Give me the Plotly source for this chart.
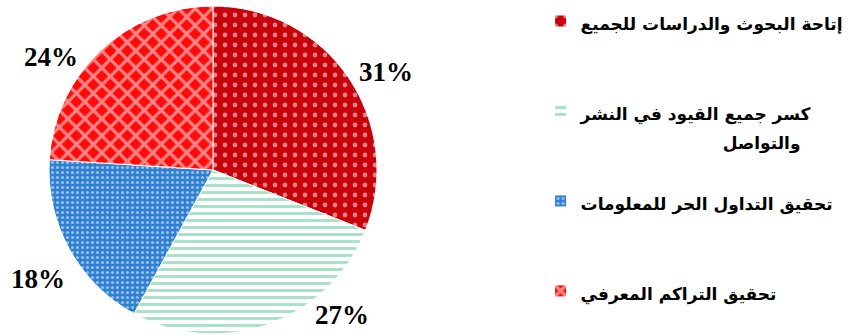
import plotly.graph_objects as go

# Share of respondents per goal of open access
labels = [
    "إتاحة البحوث والدراسات للجميع",
    "كسر جميع القيود في النشر<br>" + "\u00a0" * 24 + "والتواصل",
    "تحقيق التداول الحر للمعلومات",
    "تحقيق التراكم المعرفي",
]
values = [31, 27, 18, 24]

pattern_shapes = [".", "-", ".", "x"]
pattern_fg = ["#ffffff", "#45c487", "#ffffff", "#ffffff"]
pattern_bg = ["#c8000a", "#ffffff", "#2f80d3", "#ff0a0a"]
pattern_size = [10, 7, 5, 12]
pattern_solidity = [0.18, 0.4, 0.3, 0.45]

# Where each percentage label sits (pixel position in the 850x335 figure)
label_pos_px = [(386, 72), (342, 315), (38, 279), (51, 57)]

W, H = 850, 335
M_T, M_B = 6, 1


def to_paper(px, py):
    return px / W, 1 - (py - M_T) / (H - M_T - M_B)


# Extra blank lines keep the legend entries evenly spread
legend_text = [
    labels[0] + "<br> <br> ",
    labels[1] + "<br> ",
    labels[2] + "<br> <br> ",
    labels[3],
]
legend_text = [f'<span style="font-size:17px">{t}</span>' for t in legend_text]

fig = go.Figure(
    go.Pie(
        labels=legend_text,
        values=values,
        sort=False,
        direction="clockwise",
        rotation=0,
        domain=dict(x=[0, 426 / W], y=[0, 1]),
        marker=dict(
            colors=pattern_bg,
            line=dict(color="#ffffff", width=1),
            pattern=dict(
                shape=pattern_shapes,
                fgcolor=pattern_fg,
                bgcolor=pattern_bg,
                size=pattern_size,
                solidity=pattern_solidity,
                fillmode="overlay",
            ),
        ),
        textinfo="none",
        hoverinfo="skip",
    )
)

for v, (px, py) in zip(values, label_pos_px):
    ax, ay = to_paper(px, py)
    fig.add_annotation(
        x=ax,
        y=ay,
        xref="paper",
        yref="paper",
        text=f"{v}%",
        showarrow=False,
        xanchor="center",
        yanchor="middle",
        font=dict(family="Liberation Serif", size=27, color="#000000", weight="bold"),
    )

fig.update_layout(
    width=W,
    height=H,
    margin=dict(l=0, r=0, t=M_T, b=M_B, autoexpand=False),
    paper_bgcolor="#ffffff",
    plot_bgcolor="#ffffff",
    showlegend=True,
    legend=dict(
        x=0.636,
        xanchor="left",
        y=1,
        yref="container",
        yanchor="top",
        valign="top",
        maxheight=1,
        font=dict(family="DejaVu Sans", size=22.3, color="#000000", weight="bold"),
        bgcolor="rgba(0,0,0,0)",
    ),
)

fig.write_html("out.html")
